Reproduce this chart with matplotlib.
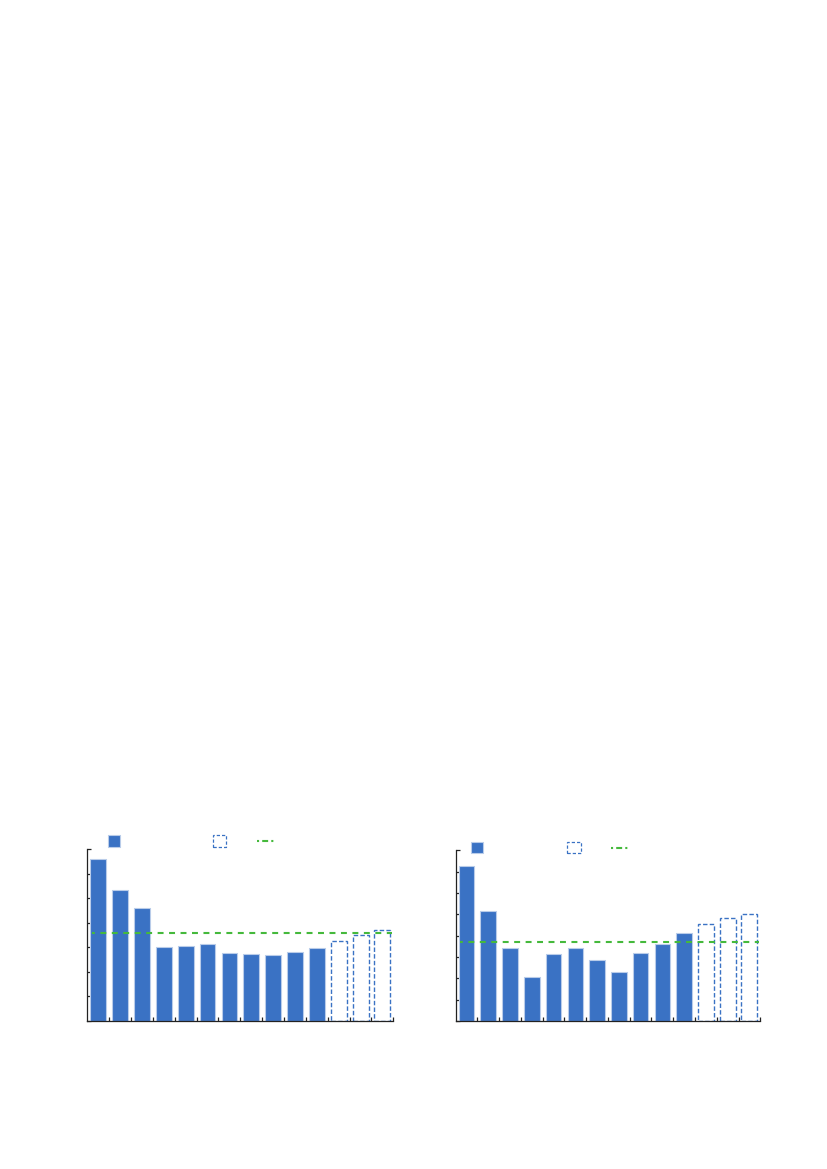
import matplotlib
matplotlib.use("Agg")
import matplotlib.pyplot as plt
from matplotlib.patches import Rectangle
from matplotlib.lines import Line2D

# ---- data ----
left_actual = [6.62, 5.35, 4.62, 3.00, 3.06, 3.14, 2.77, 2.73, 2.69, 2.81, 2.99]
left_forecast = [3.25, 3.49, 3.70]
left_avg = 3.60

right_actual = [7.28, 5.17, 3.44, 2.05, 3.16, 3.44, 2.84, 2.31, 3.17, 3.63, 4.11]
right_forecast = [4.53, 4.81, 5.00]
right_avg = 3.72

BLUE = "#3a72c4"
EDGE = "#b9cce9"
GREEN = "#45b93c"
AXC = "#222222"

fig = plt.figure(figsize=(8.27, 11.69), dpi=100)

def draw(rect, actual, forecast, avg, ymax, leg):
    ax = fig.add_axes(rect)
    n = len(actual) + len(forecast)
    xa = [i + 0.5 for i in range(len(actual))]
    xf = [len(actual) + i + 0.5 for i in range(len(forecast))]
    ax.bar(xa, actual, width=0.72, color=BLUE, edgecolor=EDGE, linewidth=0.8, zorder=2)
    ax.bar(xf, forecast, width=0.73, fill=False, edgecolor=BLUE, linewidth=1.0,
           linestyle=(0, (3.2, 1.6)), zorder=2)
    ax.hlines(avg, 0.2, n - 0.05, colors=GREEN, linewidth=1.5,
              linestyles=[(1.5, (2.85, 2.65))], zorder=3)
    ax.set_xlim(0, n)
    ax.set_ylim(0, ymax)
    ax.set_xticks(range(1, n + 1))
    ax.set_yticks(range(0, ymax + 1))
    ax.tick_params(axis="x", direction="in", length=3.2, width=0.9, color=AXC,
                   labelbottom=False)
    ax.tick_params(axis="y", direction="in", length=3.0, width=0.9, color=AXC,
                   labelleft=False)
    for s in ("top", "right"):
        ax.spines[s].set_visible(False)
    for s in ("left", "bottom"):
        ax.spines[s].set_color(AXC)
        ax.spines[s].set_linewidth(0.9)
    # legend markers (no text in reference)
    (sx, sw, sy, sh), (dx, dw), (gx0, gx1, gy) = leg
    ax.add_patch(Rectangle((sx, sy), sw, sh, transform=ax.transAxes, clip_on=False,
                           facecolor=BLUE, edgecolor=EDGE, linewidth=0.8))
    ax.add_patch(Rectangle((dx, sy), dw, sh, transform=ax.transAxes, clip_on=False,
                           fill=False, edgecolor=BLUE, linewidth=0.9,
                           linestyle=(0, (2.6, 1.6))))
    ax.add_line(Line2D([gx0, gx1], [gy, gy], transform=ax.transAxes, clip_on=False,
                       color=GREEN, linewidth=1.5,
                       linestyle=(0, (1.0, 1.5, 2.85, 1.5, 1.0, 20))))
    return ax

draw([0.1056, 0.1266, 0.3700, 0.1469], left_actual, left_forecast, left_avg, 7,
     ((0.0667, 0.040, 1.015, 0.068), (0.4118, 0.0424), (0.5546, 0.6101, 1.050)))
draw([0.5510, 0.1266, 0.3683, 0.1460], right_actual, right_forecast, right_avg, 8,
     ((0.049, 0.0406, 0.982, 0.067), (0.3654, 0.0449), (0.5099, 0.5657, 1.015)))

fig.savefig("out.png", dpi=100)
